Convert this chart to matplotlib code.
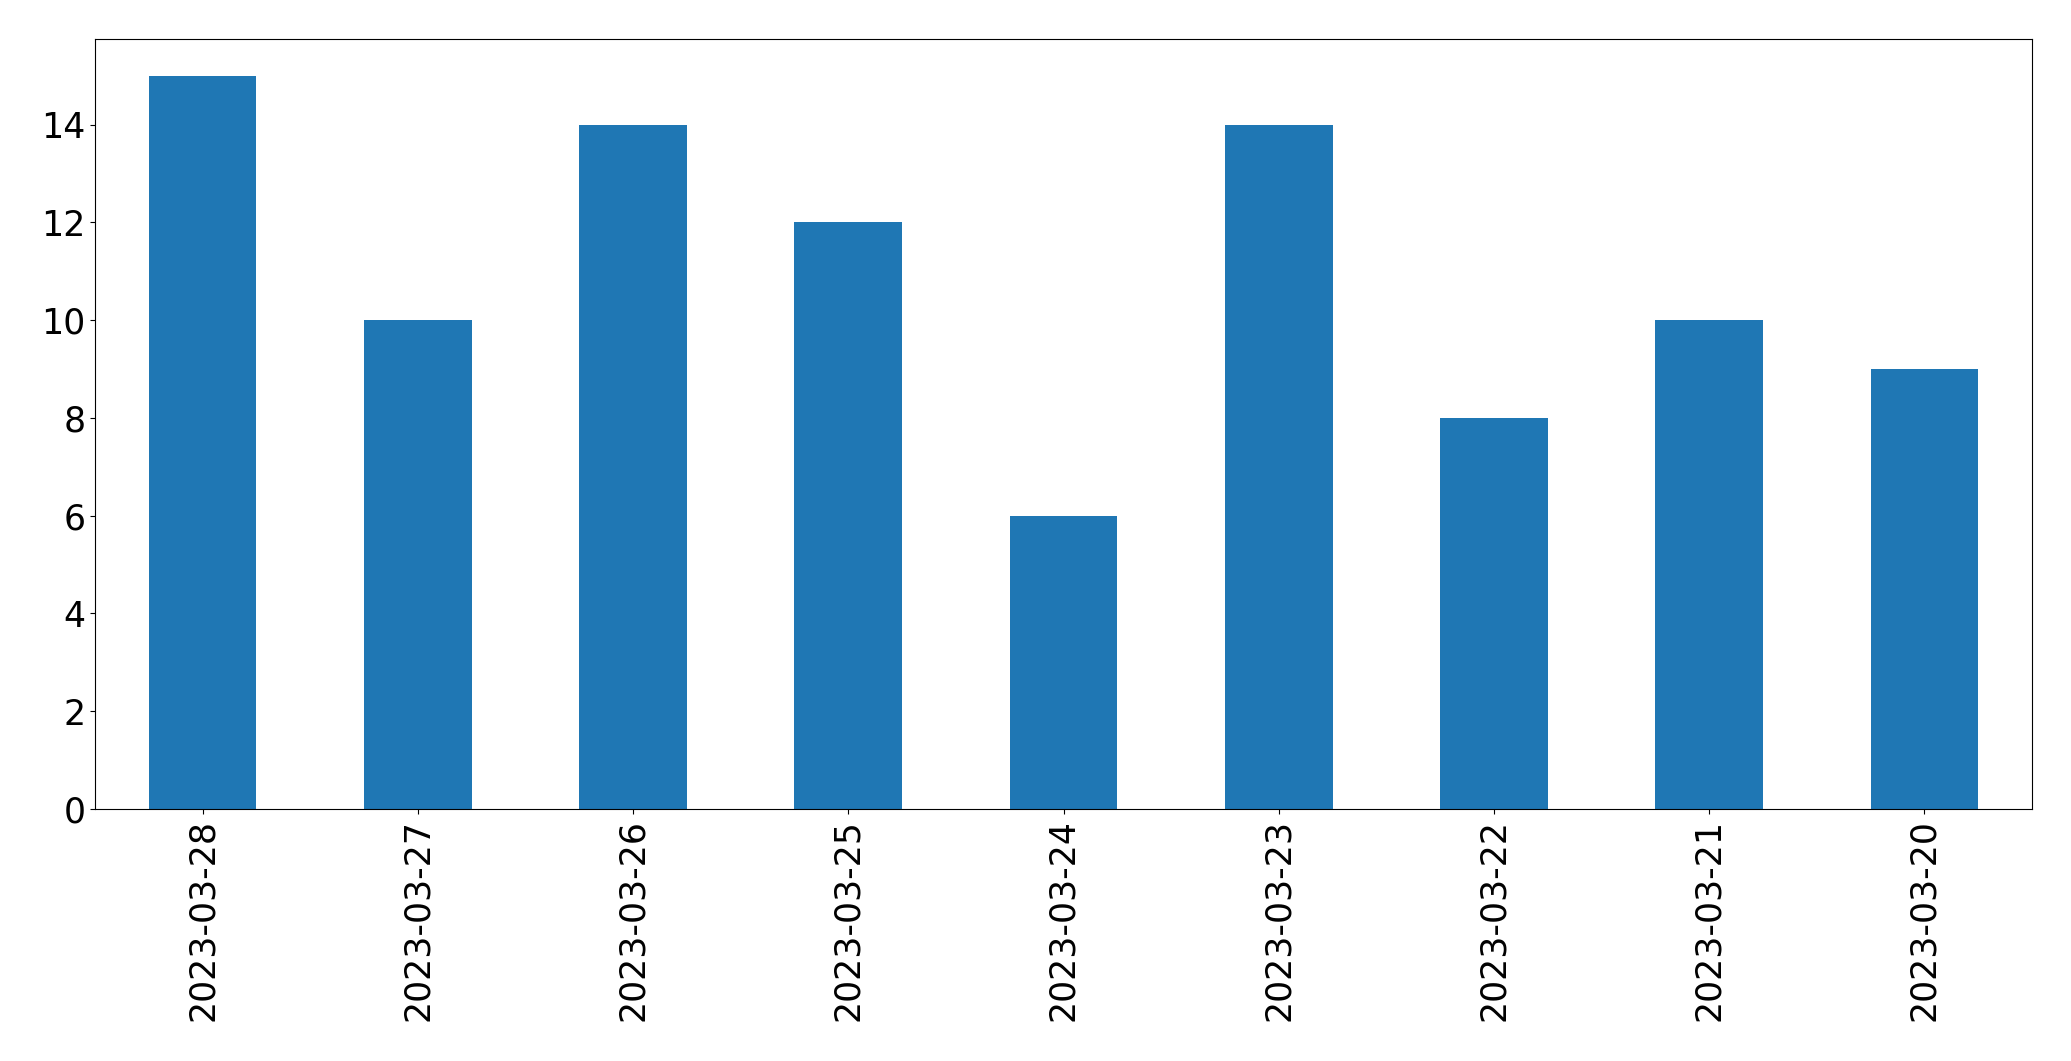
import pandas as pd
import matplotlib
matplotlib.use("Agg")
import matplotlib.pyplot as plt

# daily counts, newest first
dates = ["2023-03-28", "2023-03-27", "2023-03-26", "2023-03-25", "2023-03-24",
         "2023-03-23", "2023-03-22", "2023-03-21", "2023-03-20"]
counts = [15, 10, 14, 12, 6, 14, 8, 10, 9]

s = pd.Series(counts, index=dates)

fig = plt.figure(figsize=(20.71, 10.61), dpi=100)
ax = fig.add_axes([95 / 2071, 1 - 809 / 1061, (2032 - 95) / 2071, (809 - 39) / 1061])
s.plot(kind="bar", ax=ax, color="#1f77b4")
ax.tick_params(axis="both", labelsize=25)

fig.savefig("out.png", dpi=100)
